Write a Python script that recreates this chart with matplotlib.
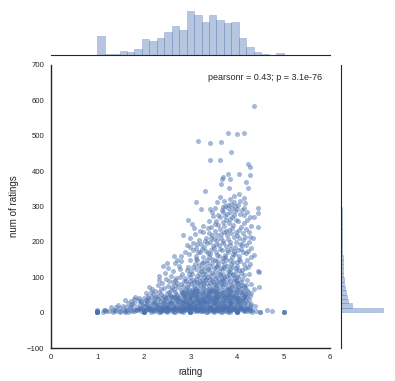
import matplotlib
matplotlib.use("Agg")
import matplotlib.pyplot as plt
import numpy as np

plt.rcParams['font.family'] = ['Liberation Sans', 'DejaVu Sans']

# mean rating / number of ratings per movie
high = [
    (4.36, 584), (3.80, 508), (4.00, 506), (4.14, 508), (3.16, 486), (3.43, 478), (3.66, 481),
    (3.87, 453), (3.43, 430), (3.63, 430), (4.24, 419), (4.28, 411), (4.05, 393), (4.28, 388),
    (3.80, 391), (3.70, 382), (3.68, 379), (3.84, 377), (3.66, 363), (4.20, 368), (4.24, 351),
    (3.83, 351), (3.31, 343), (4.05, 335), (3.93, 329), (3.63, 326), (4.16, 323), (3.85, 320),
    (4.07, 315), (3.12, 314), (3.93, 313), (3.41, 294), (3.22, 292), (3.71, 298), (3.74, 301),
    (3.80, 297), (3.90, 296), (3.99, 294), (4.15, 297), (4.46, 297), (4.44, 281), (3.78, 279),
    (3.93, 277), (3.49, 272), (3.64, 270), (4.14, 275), (4.28, 270), (4.36, 269), (2.95, 262),
    (3.03, 250), (3.08, 238), (4.46, 241),
    (3.58, 312), (3.72, 316), (3.88, 308), (4.02, 305), (4.11, 291), (3.95, 286), (3.84, 284),
    (3.69, 283), (3.56, 260), (3.77, 262), (3.86, 265), (4.03, 258), (4.21, 262), (3.60, 248),
    (3.72, 244), (3.91, 247), (4.08, 243), (4.19, 236), (3.38, 238), (3.52, 232), (3.83, 233),
    (3.97, 229), (4.12, 226), (3.65, 222), (3.79, 219), (3.93, 214), (4.05, 210), (4.28, 215),
    (3.44, 210), (3.58, 206), (3.71, 203), (3.86, 199), (4.25, 200), (3.35, 196), (3.62, 190),
    (3.77, 188), (3.96, 186), (4.10, 192), (4.29, 182), (3.50, 184), (3.25, 180), (3.88, 181),
    (4.02, 178), (2.85, 219), (3.10, 221), (3.28, 227), (3.31, 203), (3.47, 219), (2.92, 191),
    (3.14, 193), (3.18, 206), (3.00, 212),
]

upper_fill = [
    (3.52, 296), (3.67, 290), (3.81, 305), (3.96, 300), (4.18, 309), (3.46, 285), (3.60, 276),
    (3.74, 273), (3.89, 271), (4.07, 280), (4.22, 285), (3.40, 258), (3.53, 250), (3.69, 256),
    (3.82, 252), (3.97, 263), (4.15, 252), (4.31, 245), (3.27, 246), (3.45, 242), (3.64, 237),
    (3.76, 232), (3.90, 238), (4.04, 234), (4.25, 228), (3.20, 232), (3.39, 226), (3.57, 220),
    (3.72, 228), (3.87, 224), (4.00, 220), (4.17, 215), (3.33, 212), (3.50, 207), (3.66, 212),
    (3.81, 209), (3.98, 200), (4.13, 206), (4.35, 210), (3.06, 198), (3.22, 195), (3.42, 199),
    (3.55, 194), (3.69, 196), (3.84, 192), (4.06, 195), (4.20, 190), (3.12, 182), (3.30, 186),
    (3.45, 178), (3.63, 180), (3.79, 176), (3.94, 174), (4.09, 181), (4.24, 175), (2.99, 185),
    (3.38, 168), (3.58, 164), (3.75, 158), (3.92, 166), (4.05, 152), (4.30, 156), (2.79, 160),
    (3.16, 172), (3.28, 142),
]

mid = [
    (2.71, 150), (2.67, 141), (2.42, 132), (2.53, 125), (2.62, 117), (2.32, 103), (2.32, 91),
    (2.17, 68), (2.24, 61), (4.48, 73), (4.36, 66), (4.48, 116), (4.44, 119), (4.19, 168),
    (4.36, 162), (4.22, 150), (4.28, 137), (4.08, 112), (4.15, 74),
    (2.88, 172), (2.97, 165), (3.05, 176), (3.12, 160), (3.20, 170), (3.27, 158), (3.33, 174),
    (3.41, 165), (3.46, 152), (3.54, 171), (3.61, 160), (3.68, 176), (3.74, 163), (3.81, 170),
    (3.89, 158), (3.95, 167), (4.04, 160), (4.12, 172), (3.15, 148), (3.36, 140), (3.57, 145),
    (3.72, 138), (3.91, 143), (4.01, 132), (3.09, 137), (2.94, 130), (3.23, 127), (3.43, 131),
    (3.65, 126), (3.84, 122), (4.18, 125), (2.78, 122), (3.01, 118), (3.18, 112), (3.30, 119),
    (3.52, 114), (3.70, 110), (3.97, 117), (4.26, 108), (2.58, 104), (2.83, 108), (2.99, 101),
    (3.14, 104), (3.38, 100), (3.61, 96), (3.79, 104), (3.93, 98), (4.10, 96), (2.48, 95),
    (2.70, 97), (2.91, 90), (3.06, 93), (3.24, 88), (3.47, 91), (3.66, 86), (3.86, 90),
    (4.03, 84), (4.21, 91), (2.40, 84), (2.62, 86), (2.80, 80), (3.02, 82), (3.20, 78),
    (3.35, 83), (3.56, 77), (3.74, 80), (3.96, 75), (4.31, 80), (2.30, 78), (2.52, 74),
    (2.73, 71), (2.93, 73), (3.10, 70), (3.28, 72), (3.44, 68), (3.63, 71), (3.83, 66),
    (4.06, 70), (4.22, 64), (2.12, 72), (2.36, 66), (2.58, 63), (2.86, 62), (3.04, 64),
    (3.17, 61), (3.39, 62), (3.53, 60), (3.71, 63), (3.90, 61), (4.13, 60),
    (2.64, 160), (2.50, 140), (2.80, 145), (3.35, 150), (3.00, 150), (3.48, 188), (3.26, 110),
    (3.90, 128), (4.07, 146), (3.58, 132), (3.77, 150), (4.16, 138), (3.99, 104), (3.12, 124),
    (2.96, 110), (2.45, 112), (2.75, 132), (3.62, 118), (3.83, 110), (3.44, 106), (3.68, 96),
    (4.00, 90), (3.32, 92), (3.15, 86), (2.86, 88), (2.66, 78), (3.50, 80), (3.88, 82),
    (4.10, 78), (3.26, 66), (2.98, 68), (3.80, 72),
]

mid_fill = [
    (2.55, 88), (2.68, 92), (2.77, 102), (2.89, 97), (3.03, 108), (3.13, 96), (3.21, 102),
    (3.34, 108), (3.42, 96), (3.55, 104), (3.63, 108), (3.73, 94), (3.82, 99), (3.91, 110),
    (4.03, 102), (4.14, 106), (2.60, 72), (2.72, 84), (2.84, 76), (2.95, 80), (3.07, 75),
    (3.17, 82), (3.29, 78), (3.39, 74), (3.49, 86), (3.59, 84), (3.69, 76), (3.79, 86),
    (3.90, 76), (3.99, 80), (4.08, 86), (4.19, 78), (2.92, 120), (3.05, 128), (3.19, 134),
    (3.31, 128), (3.40, 120), (3.50, 126), (3.60, 138), (3.71, 122), (3.79, 132), (3.88, 138),
    (3.98, 126), (4.11, 120), (4.23, 130), (2.43, 70), (2.65, 67), (2.90, 66), (3.12, 68),
    (3.33, 64), (3.58, 66), (3.78, 68), (4.00, 64), (4.18, 70), (3.24, 140), (3.47, 140),
    (3.67, 146), (3.86, 148), (4.00, 142), (3.11, 152), (3.39, 158), (3.53, 150), (3.71, 154),
]

low = [
    (1.82, 43), (1.90, 41), (1.72, 33), (2.08, 47), (4.29, 55), (4.27, 48), (4.30, 25),
    (2.05, 55), (2.20, 52), (2.33, 58), (2.41, 48), (2.50, 56), (2.57, 50), (2.66, 57),
    (2.72, 47), (2.79, 54), (2.85, 51), (2.92, 58), (2.98, 46), (3.03, 53), (3.08, 49),
    (3.13, 57), (3.19, 52), (3.24, 46), (3.30, 55), (3.36, 50), (3.41, 58), (3.47, 47),
    (3.52, 53), (3.58, 49), (3.63, 56), (3.69, 51), (3.74, 46), (3.80, 54), (3.86, 49),
    (3.92, 57), (3.98, 52), (4.04, 47), (4.10, 54), (4.17, 50), (4.24, 57), (2.26, 45),
    (2.61, 45), (3.00, 59), (3.55, 59), (3.89, 45), (4.01, 58),
    (1.60, 35), (1.78, 38), (1.95, 32), (2.00, 40), (2.12, 36), (2.18, 43), (2.24, 31),
    (2.30, 38), (2.37, 42), (2.43, 34), (2.48, 40), (2.54, 30), (2.60, 37), (2.65, 43),
    (2.70, 33), (2.76, 40), (2.81, 35), (2.87, 44), (2.91, 31), (2.96, 38), (3.01, 42),
    (3.06, 33), (3.11, 39), (3.15, 44), (3.21, 35), (3.26, 41), (3.31, 31), (3.35, 37),
    (3.40, 43), (3.45, 34), (3.50, 40), (3.56, 32), (3.61, 38), (3.66, 44), (3.71, 35),
    (3.77, 41), (3.82, 31), (3.87, 37), (3.93, 43), (3.99, 34), (4.05, 40), (4.11, 32),
    (4.18, 38), (4.25, 35), (2.07, 33), (2.52, 44), (2.84, 30), (3.18, 31), (3.53, 44),
    (3.85, 33),
    (1.29, 17), (1.45, 22), (1.55, 18), (1.66, 26), (1.72, 20), (1.80, 28), (1.86, 16),
    (1.92, 24), (1.98, 19), (2.03, 27), (2.09, 15), (2.15, 22), (2.21, 29), (2.27, 18),
    (2.33, 25), (2.39, 16), (2.44, 28), (2.50, 21), (2.55, 17), (2.61, 26), (2.67, 19),
    (2.72, 29), (2.78, 15), (2.83, 23), (2.89, 18), (2.94, 27), (3.00, 16), (3.05, 24),
    (3.10, 20), (3.16, 28), (3.22, 17), (3.27, 25), (3.33, 19), (3.38, 29), (3.43, 15),
    (3.49, 23), (3.54, 18), (3.60, 27), (3.65, 21), (3.70, 16), (3.76, 25), (3.81, 19),
    (3.87, 28), (3.92, 22), (3.97, 17), (4.03, 26), (4.08, 20), (4.14, 24), (4.20, 17),
    (4.38, 20), (2.00, 20), (2.75, 22), (3.25, 21), (3.50, 26), (3.75, 20), (2.25, 23),
    (2.50, 15), (3.00, 23), (1.40, 15), (1.70, 15),
]

low_fill = [
    (2.15, 58), (2.38, 53), (2.55, 59), (2.69, 52), (2.82, 58), (2.95, 55), (3.06, 59),
    (3.17, 54), (3.27, 59), (3.39, 53), (3.49, 57), (3.61, 52), (3.72, 58), (3.83, 55),
    (3.95, 50), (4.07, 59), (4.20, 53),
    (2.10, 42), (2.29, 47), (2.45, 43), (2.58, 48), (2.74, 42), (2.88, 47), (3.02, 43),
    (3.12, 48), (3.22, 42), (3.33, 47), (3.44, 45), (3.57, 42), (3.67, 48), (3.79, 44),
    (3.91, 48), (4.02, 42), (4.14, 47), (4.21, 43),
    (1.88, 35), (2.04, 37), (2.21, 39), (2.35, 33), (2.46, 37), (2.57, 34), (2.69, 38),
    (2.79, 32), (2.90, 36), (3.00, 34), (3.09, 37), (3.19, 39), (3.29, 34), (3.38, 32),
    (3.48, 36), (3.58, 35), (3.68, 31), (3.79, 36), (3.90, 33), (4.00, 38), (4.09, 36),
    (4.22, 31),
    (1.75, 24), (1.94, 29), (2.06, 23), (2.18, 26), (2.30, 21), (2.41, 27), (2.52, 25),
    (2.63, 22), (2.74, 26), (2.85, 28), (2.97, 21), (3.07, 27), (3.18, 23), (3.30, 27),
    (3.40, 22), (3.52, 28), (3.62, 24), (3.73, 28), (3.84, 23), (3.95, 27), (4.06, 23),
    (4.17, 28), (4.27, 21),
    (1.50, 12), (1.62, 16), (1.78, 11), (1.95, 14), (2.07, 18), (2.19, 11), (2.31, 17),
    (2.42, 19), (2.53, 13), (2.66, 17), (2.76, 11), (2.87, 16), (2.99, 19), (3.09, 15),
    (3.20, 18), (3.31, 12), (3.41, 17), (3.52, 11), (3.62, 15), (3.72, 18), (3.85, 15),
    (3.96, 12), (4.06, 16), (4.17, 12), (4.28, 15), (2.47, 15), (2.97, 13), (3.47, 19),
    (3.67, 12),
    (1.60, 3), (1.71, 6), (1.95, 4), (2.05, 7), (2.15, 3), (2.28, 9), (2.35, 2), (2.47, 5),
    (2.55, 8), (2.65, 3), (2.78, 8), (2.85, 2), (2.95, 6), (3.05, 9), (3.15, 4), (3.23, 8),
    (3.35, 2), (3.45, 6), (3.55, 9), (3.65, 3), (3.72, 7), (3.85, 2), (3.95, 6), (4.05, 9),
    (4.15, 4), (4.28, 7), (4.40, 5), (1.33, 6), (1.12, 3), (4.75, 4),
]

core = [
    (2.71, 12), (2.81, 19), (2.93, 25), (3.04, 31), (3.14, 36), (3.23, 14), (3.36, 23),
    (3.46, 30), (3.53, 38), (3.64, 17), (3.74, 33), (3.86, 26), (3.97, 41), (2.76, 35),
    (2.88, 44), (3.01, 51), (3.12, 62), (3.24, 55), (3.37, 66), (3.45, 60), (3.56, 72),
    (3.68, 58), (3.78, 63), (3.87, 70), (3.98, 66), (4.10, 57), (2.96, 9), (3.08, 4),
    (3.18, 10), (3.27, 5), (3.39, 11), (3.48, 4), (3.59, 6), (3.69, 10), (3.81, 3),
    (3.93, 9), (4.03, 5), (2.82, 5), (2.62, 9), (2.51, 11), (2.37, 5), (3.02, 20),
    (3.15, 25), (3.31, 44), (3.42, 39), (3.60, 45), (3.72, 40), (3.84, 47), (3.95, 36),
    (4.07, 31), (4.16, 44), (3.20, 88), (3.34, 96), (3.53, 98), (3.72, 102), (3.85, 116),
    (3.94, 88), (3.58, 90), (3.41, 84), (3.06, 60), (2.84, 56),
    (2.93, 16), (3.03, 12), (3.13, 18), (3.21, 29), (3.29, 37), (3.38, 45), (3.47, 13),
    (3.56, 24), (3.66, 29), (3.76, 12), (3.88, 19), (3.99, 24), (4.09, 13), (2.98, 40),
    (3.10, 47), (3.19, 67), (3.28, 84), (3.37, 56), (3.48, 69), (3.60, 62), (3.67, 80),
    (3.76, 54), (3.86, 60), (3.97, 92), (4.04, 72), (3.07, 86), (3.30, 100), (3.46, 112),
    (3.64, 105), (3.80, 118), (3.92, 106), (4.05, 120), (3.37, 124), (3.55, 130), (3.73, 128),
    (2.90, 54), (2.79, 63), (2.68, 43), (2.59, 28), (2.88, 34), (3.26, 34), (3.54, 51),
    (3.83, 40), (4.12, 38), (3.70, 88), (3.49, 64), (2.99, 88), (3.23, 118),
]

floor = [
    (1, 1), (1, 1), (1, 2), (1, 3), (1, 4), (1, 5), (1, 6), (1, 2), (1, 1),
    (2, 1), (2, 2), (2, 3), (2, 4), (2, 5), (2, 6), (2, 7), (2, 1),
    (3, 1), (3, 2), (3, 3), (3, 4), (3, 5), (3, 6), (3, 7), (3, 8), (3, 1),
    (4, 1), (4, 2), (4, 3), (4, 4), (4, 5), (4, 6), (4, 1),
    (5, 1), (5, 1), (5, 2), (4.5, 2), (4.5, 1), (4.64, 7),
    (1.5, 2), (2.5, 2), (3.5, 2), (1.5, 4), (2.5, 4), (3.5, 4), (1.33, 3), (1.67, 3),
    (2.33, 3), (2.67, 3), (3.33, 3), (3.67, 3), (4.33, 3), (1.25, 4), (1.75, 4), (2.25, 4),
    (2.75, 4), (3.25, 4), (3.75, 4), (4.25, 4),
    (1.2, 5), (1.4, 5), (1.6, 5), (1.8, 5), (2.2, 5), (2.4, 5), (2.6, 5), (2.8, 5),
    (3.2, 5), (3.4, 5), (3.6, 5), (3.8, 5), (4.2, 5),
    (1.17, 6), (1.83, 6), (2.17, 6), (2.83, 6), (3.17, 6), (3.83, 6), (2.5, 6), (3.5, 6), (4.33, 6),
    (1.14, 7), (1.57, 7), (1.86, 7), (2.29, 7), (2.43, 7), (2.71, 7), (3.14, 7), (3.29, 7),
    (3.57, 7), (3.86, 7), (4.14, 7),
    (1.38, 8), (1.63, 8), (2.13, 8), (2.38, 8), (2.63, 8), (2.88, 8), (3.13, 8), (3.38, 8),
    (3.63, 8), (3.88, 8), (4.13, 8),
    (1.89, 9), (2.11, 9), (2.44, 9), (2.56, 9), (2.89, 9), (3.11, 9), (3.44, 9), (3.56, 9),
    (3.78, 9), (4.22, 9),
    (1.9, 10), (2.1, 10), (2.3, 10), (2.7, 10), (2.9, 10), (3.1, 10), (3.3, 10), (3.7, 10),
    (3.9, 10), (4.1, 10),
    (2.09, 11), (2.36, 11), (2.64, 11), (2.82, 11), (3.18, 11), (3.45, 11), (3.64, 11),
    (3.91, 11), (4.27, 11),
    (2.17, 12), (2.42, 12), (2.58, 12), (2.92, 12), (3.08, 12), (3.42, 12), (3.58, 12),
    (3.83, 12), (4.08, 12),
    (1.92, 13), (2.23, 13), (2.46, 13), (2.77, 13), (3.15, 13), (3.38, 13), (3.69, 13), (3.92, 13),
    (2.14, 14), (2.36, 14), (2.64, 14), (2.86, 14), (3.07, 14), (3.29, 14), (3.57, 14),
    (3.79, 14), (4.00, 14), (4.21, 14),
]

# marginal histograms (bar heights)
rating_bin_edges = np.linspace(1, 5, 26)
rating_counts = [67, 2, 2, 16, 11, 22, 58, 49, 60, 83, 106, 92, 160, 144, 121,
                 144, 127, 114, 119, 60, 30, 12, 4, 0, 8]

num_bin_edges = np.linspace(1, 584, 48)
num_counts = [580, 158, 98, 84, 66, 56, 44, 38, 33, 30, 26, 24, 21, 19, 17, 16,
              14, 13, 12, 10, 9, 9, 8, 7, 6, 6, 5, 4, 4, 3, 3, 3, 2, 3, 2, 2,
              1, 2, 1, 1, 1, 1, 0, 0, 0, 0, 1]

points = high + upper_fill + mid + mid_fill + low + low_fill + core + floor
x = [p[0] for p in points]
y = [p[1] for p in points]

blue = '#4C72B0'
text_col = '.15'

fig = plt.figure(figsize=(3.95, 3.81), dpi=100)
ax = fig.add_axes([0.128, 0.0866, 0.708, 0.743])
ax_top = fig.add_axes([0.128, 0.8556, 0.708, 0.122])
ax_right = fig.add_axes([0.8633, 0.0866, 0.1116, 0.743])

ax.scatter(x, y, s=13, color=blue, alpha=0.5, linewidths=0)
ax.set_xlim(0, 6)
ax.set_ylim(-100, 700)
ax.set_xticks(range(0, 7))
ax.set_yticks(range(-100, 701, 100))
ax.set_yticklabels(['\u2212100'] + [str(v) for v in range(0, 701, 100)])
ax.tick_params(length=0, labelsize=5.6, labelcolor=text_col, pad=4.5)
ax.set_xlabel('rating', fontsize=7, color=text_col, labelpad=4)
ax.set_ylabel('num of ratings', fontsize=7, color=text_col, labelpad=6)
for side in ['top', 'right']:
    ax.spines[side].set_visible(False)
for side in ['left', 'bottom']:
    ax.spines[side].set_color(text_col)
    ax.spines[side].set_linewidth(1.0)
ax.text(0.97, 0.955, 'pearsonr = 0.43; p = 3.1e-76', transform=ax.transAxes,
        ha='right', va='center', fontsize=6.5, color=text_col)

ax_top.bar(rating_bin_edges[:-1], rating_counts, width=np.diff(rating_bin_edges), align='edge',
           color=blue, alpha=0.4, edgecolor=blue, linewidth=0.5)
ax_top.set_xlim(0, 6)
ax_top.set_ylim(0, max(rating_counts) * 1.05)
ax_top.set_xticks([])
ax_top.set_yticks([])
for side in ['top', 'right', 'left']:
    ax_top.spines[side].set_visible(False)
ax_top.spines['bottom'].set_color(text_col)

ax_right.barh(num_bin_edges[:-1], num_counts, height=np.diff(num_bin_edges), align='edge',
              color=blue, alpha=0.4, edgecolor=blue, linewidth=0.5)
ax_right.set_ylim(-100, 700)
ax_right.set_xlim(0, max(num_counts) * 1.05)
ax_right.set_xticks([])
ax_right.set_yticks([])
for side in ['top', 'right', 'bottom']:
    ax_right.spines[side].set_visible(False)
ax_right.spines['left'].set_color(text_col)

for a in (ax_top, ax_right):
    a.patch.set_alpha(0)

fig.savefig('out.png', dpi=100)
